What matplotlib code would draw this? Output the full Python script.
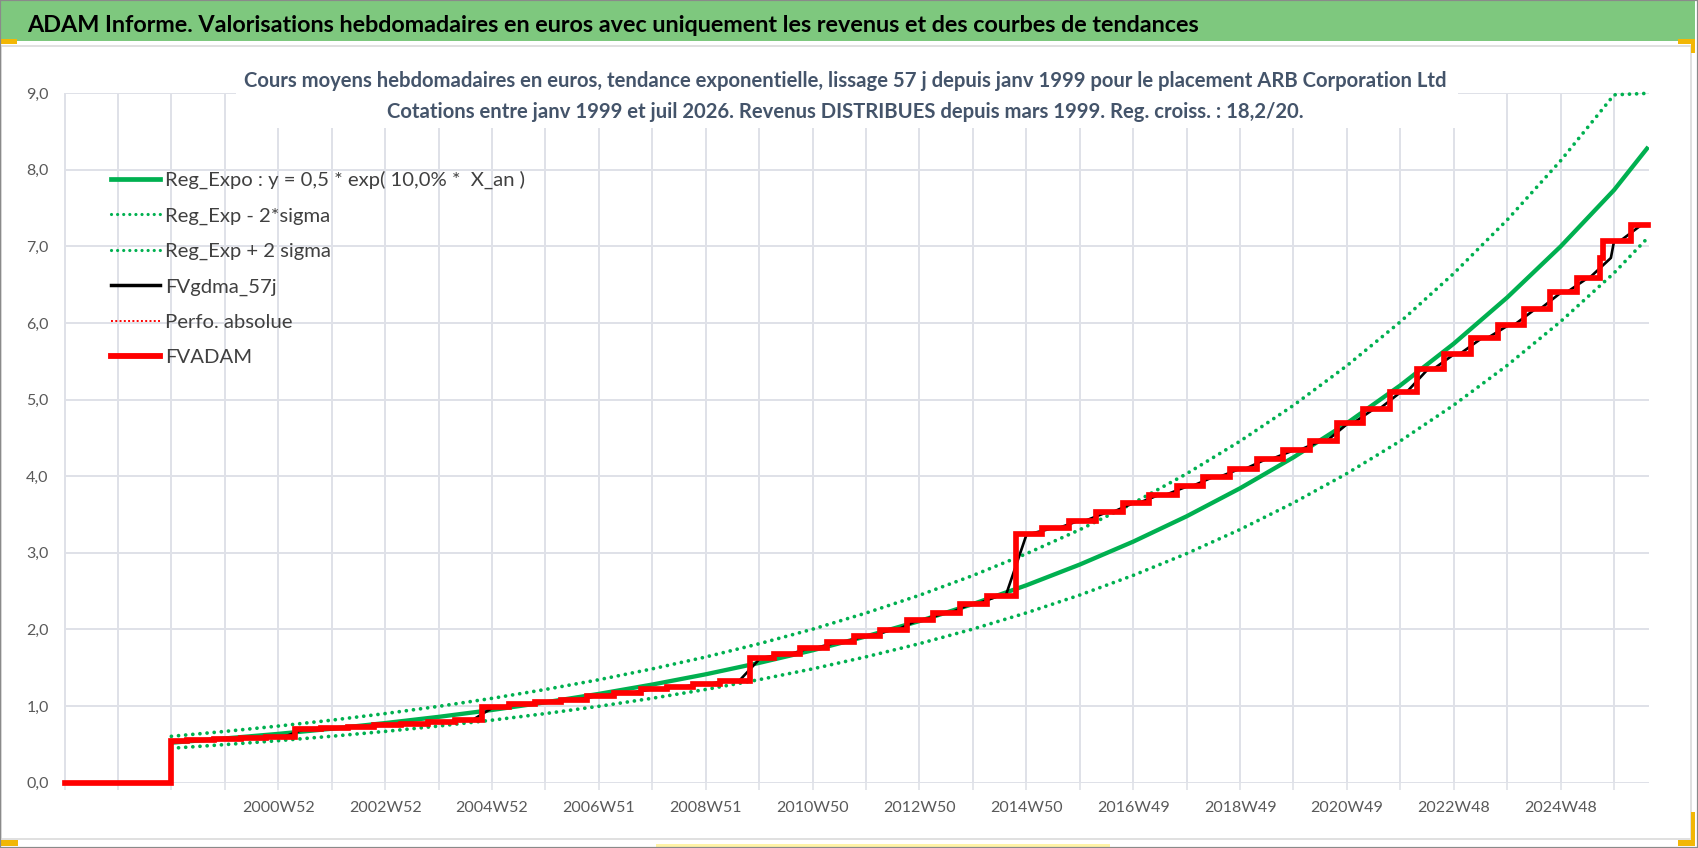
import numpy as np
import matplotlib
matplotlib.use("Agg")
import matplotlib.pyplot as plt
from matplotlib.patches import Rectangle
from matplotlib.lines import Line2D

# ---------------- data ----------------
first_year = 1997          # first weekly category (1997W01)
n_weeks = 1542             # number of weekly categories (to juil 2026)
weeks_per_grid = 52        # one gridline / tick every 52 weeks
end_year = 2026.64

trend_years = [1999, 2000, 2001, 2002, 2003, 2004, 2005, 2006, 2007, 2008,
               2009, 2010, 2011, 2012, 2013, 2014, 2015, 2016, 2017, 2018,
               2019, 2020, 2021, 2022, 2023, 2024, 2025, 2026, 2026.64]
reg_expo = [0.52, 0.575, 0.635, 0.702, 0.776, 0.857, 0.947, 1.047, 1.157, 1.279,
            1.413, 1.562, 1.726, 1.908, 2.108, 2.330, 2.575, 2.846, 3.145, 3.476,
            3.842, 4.246, 4.692, 5.186, 5.731, 6.334, 7.000, 7.737, 8.30]
reg_minus = [0.447, 0.495, 0.546, 0.604, 0.667, 0.737, 0.814, 0.900, 0.995, 1.100,
             1.215, 1.343, 1.484, 1.641, 1.813, 2.004, 2.215, 2.448, 2.705, 2.989,
             3.304, 3.652, 4.035, 4.460, 4.929, 5.447, 6.020, 6.654, 7.12]
reg_plus = [0.603, 0.667, 0.737, 0.814, 0.900, 0.994, 1.099, 1.215, 1.342, 1.484,
            1.639, 1.812, 2.002, 2.213, 2.445, 2.703, 2.987, 3.301, 3.648, 4.032,
            4.457, 4.925, 5.443, 6.016, 6.648, 7.347, 8.120, 8.98, 9.0]

# FVADAM: dates of the income steps and level after each step
step_years = [1999.00, 1999.30, 1999.80, 2000.30, 2000.78, 2001.32, 2001.80, 2002.30,
              2002.80, 2003.30, 2003.80, 2004.30, 2004.82, 2005.31, 2005.81, 2006.29,
              2006.78, 2007.28, 2007.78, 2008.28, 2008.77, 2009.27, 2009.83, 2010.27,
              2010.77, 2011.27, 2011.77, 2012.27, 2012.77, 2013.26, 2013.76, 2014.26,
              2014.81, 2015.29, 2015.79, 2016.31, 2016.81, 2017.30, 2017.82, 2018.30,
              2018.81, 2019.31, 2019.81, 2020.31, 2020.82, 2021.31, 2021.81, 2022.32,
              2022.82, 2023.32, 2023.82, 2024.32, 2024.81, 2025.31, 2025.74, 2025.80,
              2026.31]
step_levels = [0.545, 0.555, 0.565, 0.578, 0.60, 0.705, 0.715, 0.73,
               0.745, 0.76, 0.795, 0.81, 0.98, 1.02, 1.055, 1.08,
               1.13, 1.17, 1.215, 1.25, 1.29, 1.33, 1.63, 1.675,
               1.76, 1.83, 1.91, 1.99, 2.12, 2.21, 2.33, 2.43,
               3.25, 3.32, 3.42, 3.53, 3.65, 3.76, 3.87, 3.99,
               4.10, 4.23, 4.34, 4.46, 4.69, 4.88, 5.10, 5.40,
               5.60, 5.80, 5.97, 6.18, 6.40, 6.59, 6.85, 7.07,
               7.28]
smooth_half_width = 0.2    # years, lead/lag of the 57j smoothed curve around a step

xtick_labels = ['2000W52', '2002W52', '2004W52', '2006W51', '2008W51', '2010W50',
                '2012W50', '2014W50', '2016W49', '2018W49', '2020W49', '2022W48',
                '2024W48']
first_label_grid = 4
y_ticks = [0, 1, 2, 3, 4, 5, 6, 7, 8, 9]

legend_labels = ['Reg_Expo : y = 0,5 * exp( 10,0% *  X_an )', 'Reg_Exp - 2*sigma',
                 'Reg_Exp + 2 sigma', 'FVgdma_57j', 'Perfo. absolue', 'FVADAM']

main_title = ("ADAM Informe. Valorisations hebdomadaires en euros avec uniquement "
              "les revenus et des courbes de tendances")
sub1 = ("Cours moyens hebdomadaires en euros, tendance exponentielle, lissage 57 j "
        "depuis janv 1999 pour le placement ARB Corporation Ltd")
sub2 = ("Cotations entre janv 1999 et juil 2026. Revenus DISTRIBUES depuis mars 1999. "
        "Reg. croiss. : 18,2/20.")

# ---------------- helpers ----------------
def to_idx(years):
    return (np.asarray(years, dtype=float) - first_year) * weeks_per_grid

# staircase for FVADAM
red_x, red_y = [first_year], [0.0]
prev = 0.0
for t, lv in zip(step_years, step_levels):
    red_x += [t, t]
    red_y += [prev, lv]
    prev = lv
red_x.append(end_year)
red_y.append(prev)

# smoothed version (FVgdma_57j): same steps spread over a short window
blk_x, blk_y = [first_year, step_years[0], step_years[0]], [0.0, 0.0, step_levels[0]]
prev, prev_end = step_levels[0], step_years[0]
for t, lv in zip(step_years[1:], step_levels[1:]):
    s = max(t - smooth_half_width, prev_end)
    e = max(t + smooth_half_width, s + 0.02)
    blk_x += [s, e]
    blk_y += [prev, lv]
    prev, prev_end = lv, e
blk_x.append(end_year)
blk_y.append(prev)

# ---------------- figure ----------------
W, H = 1698, 848
plt.rcParams['font.family'] = ['Lato', 'DejaVu Sans']
fig = plt.figure(figsize=(W / 100, H / 100), dpi=100)
fig.patch.set_facecolor('white')


def px_rect(x0, y0, x1, y1, color, z=1):
    r = Rectangle((x0 / W, 1 - y1 / H), (x1 - x0) / W, (y1 - y0) / H,
                  transform=fig.transFigure, facecolor=color, edgecolor='none',
                  lw=0, zorder=z)
    fig.add_artist(r)
    return r

# title bar and chart frame decorations
px_rect(1, 1, 1695, 41, '#7ec87e')
frame = Rectangle((1 / W, 1 - 839 / H), (1691 - 1) / W, (839 - 46) / H,
                  transform=fig.transFigure, fill=False, edgecolor='#dadada', lw=1.2)
fig.add_artist(frame)
px_rect(0, 39, 17, 44, '#f2b705', z=3)
px_rect(1678, 39, 1695, 44, '#f2b705', z=3)
px_rect(1691, 39, 1695, 53, '#f2b705', z=3)
px_rect(1691, 812, 1695, 846, '#f2b705', z=3)
px_rect(1678, 840, 1695, 846, '#f2b705', z=3)
px_rect(0, 840, 18, 846, '#f2b705', z=3)
px_rect(656, 844, 1110, 847, '#fff3a6', z=3)
outer = Rectangle((0, 0), 1, 1, transform=fig.transFigure, fill=False,
                  edgecolor='#8a8a8a', lw=1.6, zorder=4)
fig.add_artist(outer)

# axes
ax_l, ax_r, ax_t, ax_b = 64, 1648.5, 93.3, 782.5
ax = fig.add_axes([ax_l / W, 1 - ax_b / H, (ax_r - ax_l) / W, (ax_b - ax_t) / H])
ax.set_facecolor('none')
for s in ax.spines.values():
    s.set_visible(False)
ax.set_xlim(-0.5, n_weeks - 0.5)
ax.set_ylim(0, 9)
ax.set_axisbelow(True)
grid_c = '#dfe1e8'
ax.grid(True, color=grid_c, lw=1.4)

ticks = np.arange(0, n_weeks, weeks_per_grid)
ax.set_xticks(ticks)
labels = [''] * len(ticks)
for j, lab in enumerate(xtick_labels):
    k = first_label_grid + 2 * j
    if k < len(labels):
        labels[k] = lab
ax.set_xticklabels(labels)
ax.tick_params(axis='x', length=5, width=1.2, color=grid_c, pad=8,
               labelsize=11.5, labelcolor='#595959')
ax.set_yticks(y_ticks)
ax.set_yticklabels([f"{v:.1f}".replace('.', ',') for v in y_ticks])
ax.tick_params(axis='y', length=0, pad=11, labelsize=11.5, labelcolor='#595959')

# white box behind the chart title (covers the grid)
tb = Rectangle((236 / W, 1 - 128 / H), (1458 - 236) / W, 60 / H,
               transform=fig.transFigure, facecolor='white', edgecolor='none',
               zorder=1)
ax.add_artist(tb)

green = '#00b050'
tx = to_idx(trend_years)
ax.plot(tx, reg_expo, color=green, lw=3.1, zorder=2, solid_capstyle='butt')
ax.plot(tx, reg_minus, color=green, lw=2.7, ls=(0, (0.01, 1.9)),
        dash_capstyle='round', zorder=2.1)
ax.plot(tx, reg_plus, color=green, lw=2.7, ls=(0, (0.01, 1.9)),
        dash_capstyle='round', zorder=2.2, clip_on=False)
ax.plot(to_idx(blk_x), blk_y, color='black', lw=1.9, zorder=2.3, clip_on=False)
ax.plot(to_idx(red_x), red_y, color='#ff0000', lw=4.1, zorder=2.5, clip_on=False,
        solid_joinstyle='miter')

handles = [
    Line2D([], [], color=green, lw=3.4),
    Line2D([], [], color=green, lw=2.3, ls=(0, (0.01, 1.9)), dash_capstyle='round'),
    Line2D([], [], color=green, lw=2.3, ls=(0, (0.01, 1.9)), dash_capstyle='round'),
    Line2D([], [], color='black', lw=2.5),
    Line2D([], [], color='#ff0000', lw=1.4, ls=(0, (1, 1.2))),
    Line2D([], [], color='#ff0000', lw=4.2),
]
leg = ax.legend(handles, legend_labels, loc='upper left',
                bbox_to_anchor=(111 / W, 1 - 171 / H), bbox_transform=fig.transFigure,
                frameon=False, fontsize=14.6, handlelength=2.4, handletextpad=0.28,
                labelspacing=0.89, borderpad=0, borderaxespad=0,
                labelcolor='#404040')

# titles
t_main = fig.text(27 / W, 1 - 31.7 / H, main_title, fontsize=18, fontweight='bold',
                  color='black', ha='left', va='baseline')
t_s1 = fig.text(845 / W, 1 - 87.3 / H, sub1, fontsize=15, fontweight='bold',
                color='#44546a', ha='center', va='baseline')
t_s2 = fig.text(845 / W, 1 - 118 / H, sub2, fontsize=15, fontweight='bold',
                color='#44546a', ha='center', va='baseline')

fig.canvas.draw()
r = fig.canvas.get_renderer()
wm = t_main.get_window_extent(r).width
t_main.set_fontsize(18 * 1176 / wm)
w1 = t_s1.get_window_extent(r).width
fs_sub = 15 * 1209 / w1
t_s1.set_fontsize(fs_sub)
t_s2.set_fontsize(fs_sub)

fig.savefig('out.png', dpi=100, facecolor='white')
